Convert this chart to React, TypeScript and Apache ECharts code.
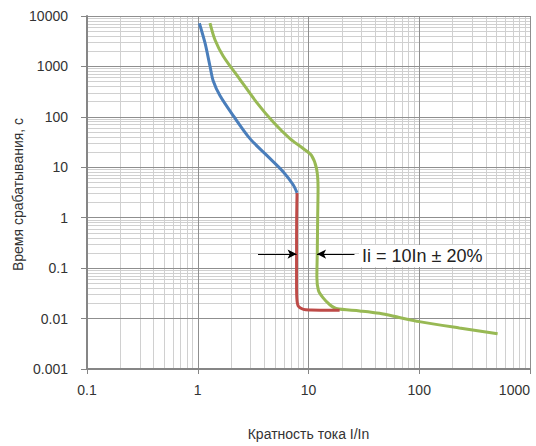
import React, { useEffect, useRef } from "react";
import * as echarts from "echarts";

// Blue: thermal release (lower boundary)
const blueX = [1.034, 1.163, 1.29, 1.38, 1.59, 2.09, 2.96, 4.18, 5.9, 7.27, 7.88];
const blueY = [7200, 2920, 1010, 515, 262, 106, 37, 17.4, 8.2, 4.5, 3.1];

// Red: magnetic release (lower boundary)
const redX = [7.88, 7.82, 7.8, 7.8, 7.85, 8.1, 9.0, 10.5, 14, 19.1];
const redY = [3.1, 1, 0.2, 0.05, 0.025, 0.0175, 0.0152, 0.0148, 0.0147, 0.0147];

// Green: upper boundary
const greenX = [1.29, 1.43, 1.7, 2.4, 3.4, 4.8, 6.8, 8.95, 10.6, 11.8, 12.2, 12.1, 12.0, 11.9, 12.3, 13.5, 15.5, 17.8, 29, 43.8, 66, 100, 230, 510];
const greenY = [7200, 3380, 1592, 556, 194, 79, 37, 23.6, 17.4, 9.5, 3.9, 1, 0.2, 0.067, 0.036, 0.026, 0.019, 0.0158, 0.0142, 0.0127, 0.0105, 0.0087, 0.0065, 0.005];

// Annotation arrows (at t = 0.19 s)
const arrowY = 0.19;
const arrowLeft = [3.5, 7.8];
const arrowRight = [26, 11.95];
const annotationText = "Ii = 10In ± 20%";

const xDecades = [0.1, 1, 10, 100];
const yDecades = [0.001, 0.01, 0.1, 1, 10, 100, 1000];
const minorMultipliers = [2, 3, 4, 5, 6, 7, 8, 9];

const xTitle = "Кратность тока I/In";
const yTitle = "Время срабатывания, с";

const FONT = "Liberation Sans, Arial, sans-serif";

const zip = (xs: number[], ys: number[]) => xs.map((x, i) => [x, ys[i]]);
const fmt = (v: number) => String(Number(v.toPrecision(6)));

export default function App() {
  const ref = useRef<HTMLDivElement>(null);
  useEffect(() => {
    document.body.style.margin = "0";
    if (!ref.current) return;
    const chart = echarts.init(ref.current, undefined, { renderer: "svg" });
    const minorX: any[] = [];
    xDecades.forEach((d) => minorMultipliers.forEach((m) => minorX.push({ xAxis: Number((d * m).toPrecision(6)) })));
    const minorY: any[] = [];
    yDecades.forEach((d) => minorMultipliers.forEach((m) => minorY.push({ yAxis: Number((d * m).toPrecision(6)) })));

    chart.setOption({
      animation: false,
      textStyle: { fontFamily: FONT },
      grid: { left: 87, right: 6, top: 16, bottom: 73, containLabel: false },
      xAxis: {
        type: "log",
        logBase: 10,
        min: 0.1,
        max: 1000,
        name: xTitle,
        nameLocation: "middle",
        nameGap: 58,
        nameTextStyle: { fontSize: 14, color: "#333", fontFamily: FONT },
        axisLine: { lineStyle: { color: "#868686", width: 2 } },
        axisTick: { show: true, length: 5, lineStyle: { color: "#868686", width: 1 } },
        axisLabel: { fontSize: 14, color: "#333", margin: 14, fontFamily: FONT, formatter: fmt, alignMaxLabel: "right" },
        splitLine: { show: true, lineStyle: { color: "#8f8f8f", width: 1 } },
        z: 2,
      },
      yAxis: {
        type: "log",
        logBase: 10,
        min: 0.001,
        max: 10000,
        axisLine: { show: true, lineStyle: { color: "#868686", width: 2 } },
        axisTick: { show: true, length: 6, lineStyle: { color: "#868686", width: 1 } },
        axisLabel: { fontSize: 14, color: "#333", margin: 19, fontFamily: FONT, formatter: fmt },
        splitLine: { show: true, lineStyle: { color: "#8f8f8f", width: 1 } },
        z: 2,
      },
      series: [
        {
          type: "line",
          data: [],
          z: 0,
          silent: true,
          markLine: {
            z: 0,
            silent: true,
            symbol: "none",
            label: { show: false },
            lineStyle: { color: "#d0d0d0", type: "solid", width: 1 },
            emphasis: { disabled: true },
            data: [...minorX, ...minorY],
          },
        },
        {
          type: "line",
          data: zip(blueX, blueY),
          showSymbol: false,
          smooth: 0.3,
          lineStyle: { color: "#4A7EBB", width: 3 },
          itemStyle: { color: "#4A7EBB" },
          z: 6,
        },
        {
          type: "line",
          data: zip(greenX, greenY),
          showSymbol: false,
          smooth: 0.3,
          lineStyle: { color: "#98B954", width: 3 },
          itemStyle: { color: "#98B954" },
          z: 6,
        },
        {
          type: "line",
          data: zip(redX, redY),
          showSymbol: false,
          smooth: 0.3,
          lineStyle: { color: "#BE4B48", width: 3 },
          itemStyle: { color: "#BE4B48" },
          z: 7,
          markLine: {
            z: 8,
            silent: true,
            symbol: ["none", "arrow"],
            symbolSize: [7, 9],
            label: { show: false },
            lineStyle: { color: "#000", type: "solid", width: 1 },
            emphasis: { disabled: true },
            data: [
              [{ coord: [arrowLeft[0], arrowY] }, { coord: [arrowLeft[1], arrowY] }],
              [{ coord: [arrowRight[0], arrowY] }, { coord: [arrowRight[1], arrowY] }],
            ],
          },
        },
      ],
      graphic: [
        {
          type: "text",
          x: 18,
          y: 194.5,
          rotation: Math.PI / 2,
          style: {
            text: yTitle,
            fontSize: 14,
            fontFamily: FONT,
            fill: "#333",
            textAlign: "center",
            textVerticalAlign: "middle",
          },
        },
        {
          type: "text",
          x: 359,
          y: 256,
          z: 10,
          style: {
            text: annotationText,
            fontSize: 18,
            fontFamily: FONT,
            fill: "#222",
            textAlign: "left",
            textVerticalAlign: "middle",
            backgroundColor: "#fff",
            padding: [2, 3, 2, 3],
          },
        },
      ],
    });
    return () => chart.dispose();
  }, []);
  return <div ref={ref} style={{ width: 536, height: 446 }} />;
}
